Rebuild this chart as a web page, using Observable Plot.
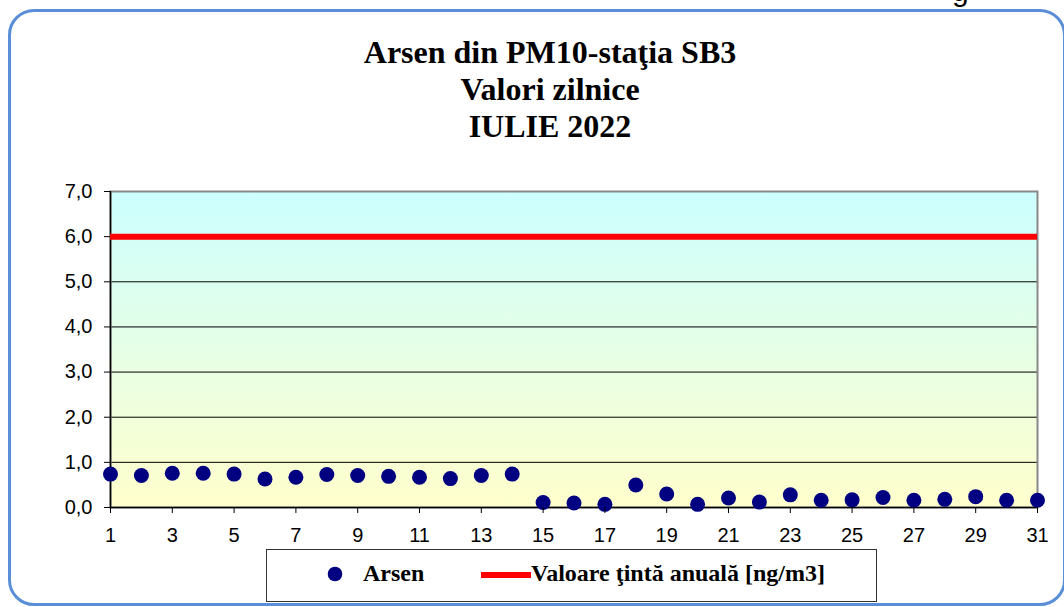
<!DOCTYPE html>
<html>
<head>
<meta charset="utf-8">
<script src="https://cdn.jsdelivr.net/npm/d3@7"></script>
<script src="https://cdn.jsdelivr.net/npm/@observablehq/plot@0.6"></script>
<style>
  html, body { margin: 0; padding: 0; background: #fff; }
  #wrap { position: relative; width: 1064px; height: 607px; overflow: hidden; background: #fff; }
  #frame { position: absolute; left: 8px; top: 9px; width: 1058px; height: 597px; box-sizing: border-box;
           border: 3px solid #5a8fd8; border-radius: 26px; }
  #cut { position: absolute; left: 952px; top: -26px; font: 30px "Liberation Sans", Arial, sans-serif; color: #000; }
  #title { position: absolute; left: 250px; width: 600px; top: 34px; text-align: center;
           font: bold 32px/37px "Liberation Serif", "Times New Roman", serif; color: #000; }
  #chart { position: absolute; left: 0; top: 170px; }
  #legend { position: absolute; left: 266px; top: 549px; width: 611px; height: 53px; box-sizing: border-box;
            border: 1px solid #333; background: #fff; }
  .lg { position: absolute; font: bold 24px "Liberation Serif", "Times New Roman", serif; color: #000; white-space: nowrap; }
</style>
</head>
<body>
<div id="wrap">
  <div id="cut">g</div>
  <div id="frame"></div>
  <div id="title"></div>
  <div id="chart"></div>
  <div id="legend"></div>
</div>
<script>
// ---- data ----
const titleLines = ["Arsen din PM10-staţia SB3", "Valori zilnice", "IULIE 2022"];
const days = d3.range(1, 32);
const arsen = [0.74, 0.71, 0.76, 0.76, 0.74, 0.63, 0.67, 0.73, 0.71, 0.69, 0.67, 0.64, 0.71, 0.74,
               0.11, 0.10, 0.07, 0.50, 0.30, 0.07, 0.21, 0.12, 0.28, 0.16, 0.17, 0.22, 0.16, 0.18, 0.24, 0.16, 0.16];
const targetValue = [6];
const yTicks = [0, 1, 2, 3, 4, 5, 6, 7];
const gridLines = [1, 2, 3, 4, 5, 6];
const xTicks = [1, 3, 5, 7, 9, 11, 13, 15, 17, 19, 21, 23, 25, 27, 29, 31];
const seriesNames = ["Arsen", "Valoare ţintă anuală [ng/m3]"];

const data = days.map((d, i) => ({day: d, value: arsen[i]}));

document.getElementById("title").innerHTML = titleLines.map(t => `<div>${t}</div>`).join("");

const chart = Plot.plot({
  width: 1064,
  height: 400,
  marginLeft: 110,
  marginRight: 27,
  marginTop: 21,
  marginBottom: 63,
  style: {fontFamily: "'Liberation Sans', Arial, sans-serif", fontSize: "20px", color: "#000", background: "transparent", overflow: "visible"},
  x: {domain: [1, 31]},
  y: {domain: [0, 7]},
  marks: [
    Plot.frame({fill: "url(#bgGrad)"}),
    Plot.ruleY(gridLines, {stroke: "#000", strokeWidth: 1}),
    Plot.frame({stroke: "#888", strokeWidth: 2, fill: "none"}),
    Plot.ruleX([1], {stroke: "#000", strokeWidth: 1.5}),
    Plot.ruleY([0], {stroke: "#000", strokeWidth: 1.5}),
    Plot.ruleY(targetValue, {stroke: "#ff0000", strokeWidth: 6}),
    Plot.dot(data, {x: "day", y: "value", r: 7.5, fill: "#000080", stroke: "none"}),
    Plot.axisY({ticks: yTicks, tickSize: 6, tickPadding: 12, tickFormat: d => d.toFixed(1).replace(".", ","), label: null, stroke: "#000"}),
    Plot.axisX({ticks: xTicks, tickSize: 6, tickPadding: 14, tickFormat: d => String(d), label: null, stroke: "#000"})
  ]
});

const ns = "http://www.w3.org/2000/svg";
const defs = document.createElementNS(ns, "defs");
defs.innerHTML = `<linearGradient id="bgGrad" x1="0" y1="0" x2="0" y2="1">
  <stop offset="0" stop-color="#ccffff"/>
  <stop offset="0.5" stop-color="#e6ffe6"/>
  <stop offset="1" stop-color="#ffffcc"/>
</linearGradient>`;
chart.insertBefore(defs, chart.firstChild);
document.getElementById("chart").appendChild(chart);

// legend
const lg = document.getElementById("legend");
const lsvg = d3.select(lg).append("svg").attr("width", 611).attr("height", 53)
  .style("position", "absolute").style("left", "-1px").style("top", "-1px");
lsvg.append("circle").attr("cx", 69).attr("cy", 25).attr("r", 7.3).attr("fill", "#000080");
lsvg.append("line").attr("x1", 215).attr("x2", 265).attr("y1", 26).attr("y2", 26)
  .attr("stroke", "#ff0000").attr("stroke-width", 6);
const t1 = document.createElement("div"); t1.className = "lg"; t1.textContent = seriesNames[0];
t1.style.left = "96px"; t1.style.top = "10px"; lg.appendChild(t1);
const t2 = document.createElement("div"); t2.className = "lg"; t2.textContent = seriesNames[1];
t2.style.left = "264px"; t2.style.top = "10px"; lg.appendChild(t2);
</script>
</body>
</html>
